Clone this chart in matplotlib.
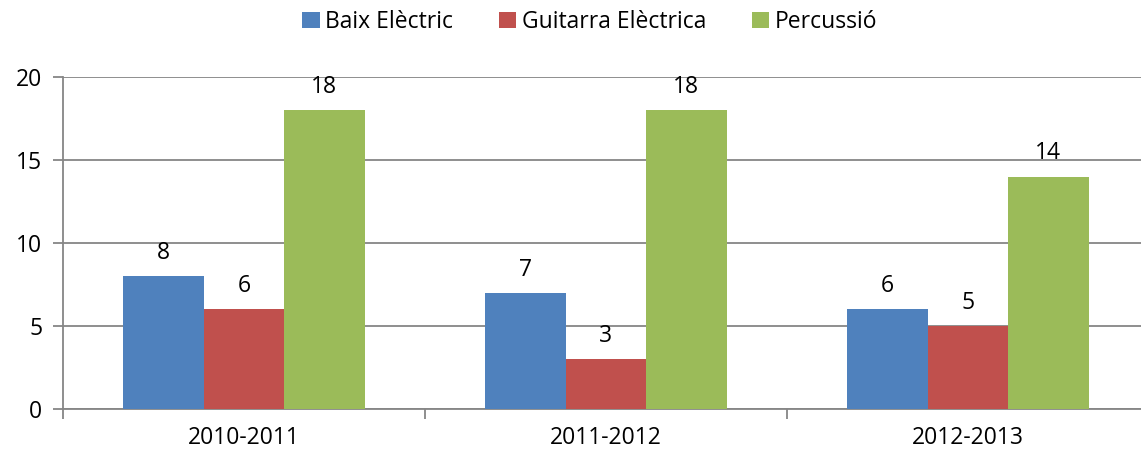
import numpy as np
import matplotlib.pyplot as plt

plt.rcParams['font.family'] = ['Open Sans', 'DejaVu Sans']

years = ["2010-2011", "2011-2012", "2012-2013"]
series = ["Baix Elèctric", "Guitarra Elèctrica", "Percussió"]
baix = [8, 7, 6]
guitarra = [6, 3, 5]
percussio = [18, 18, 14]
colors = ["#4F81BD", "#C0504D", "#9BBB59"]

fig = plt.figure(figsize=(11.41, 4.58), dpi=100)
ax = fig.add_axes([63 / 1141, 49 / 458, 1086 / 1141, 332 / 458])

x = np.arange(len(years))
width = 0.222
grid_col = "#868686"

for i, (name, vals) in enumerate(zip(series, [baix, guitarra, percussio])):
    bars = ax.bar(x + (i - 1) * width, vals, width, color=colors[i], label=name, zorder=3)
    for b, v in zip(bars, vals):
        ax.annotate(str(v), (b.get_x() + b.get_width() / 2, v), xytext=(0, 8),
                    textcoords="offset points", ha="center", va="bottom", fontsize=16.5)

ax.set_ylim(0, 20)
ax.set_xlim(-0.5, 2.5)
ax.set_yticks([0, 5, 10, 15, 20])
ax.yaxis.grid(True, color=grid_col, linewidth=1.3, zorder=0)
ax.set_axisbelow(True)

ax.set_xticks([-0.5, 0.5, 1.5, 2.5])
ax.set_xticklabels([])
ax.set_xticks(x, minor=True)
ax.set_xticklabels(years, minor=True)
ax.tick_params(axis="x", which="minor", length=0, pad=12, labelsize=16.5)
ax.tick_params(axis="x", which="major", length=7, width=1.3, color=grid_col, direction="out")
ax.tick_params(axis="y", length=7, width=1.3, color=grid_col, pad=8, labelsize=16.5)

for s in ["top", "right"]:
    ax.spines[s].set_visible(False)
for s in ["left", "bottom"]:
    ax.spines[s].set_color(grid_col)
    ax.spines[s].set_linewidth(1.3)

ax.legend(loc="center", bbox_to_anchor=(590 / 1141, 436 / 458), bbox_transform=fig.transFigure,
          ncol=3, frameon=False, fontsize=16.5, handlelength=0.75, handleheight=0.75,
          handletextpad=0.25, columnspacing=2.0)

fig.savefig("out.png", dpi=100)
